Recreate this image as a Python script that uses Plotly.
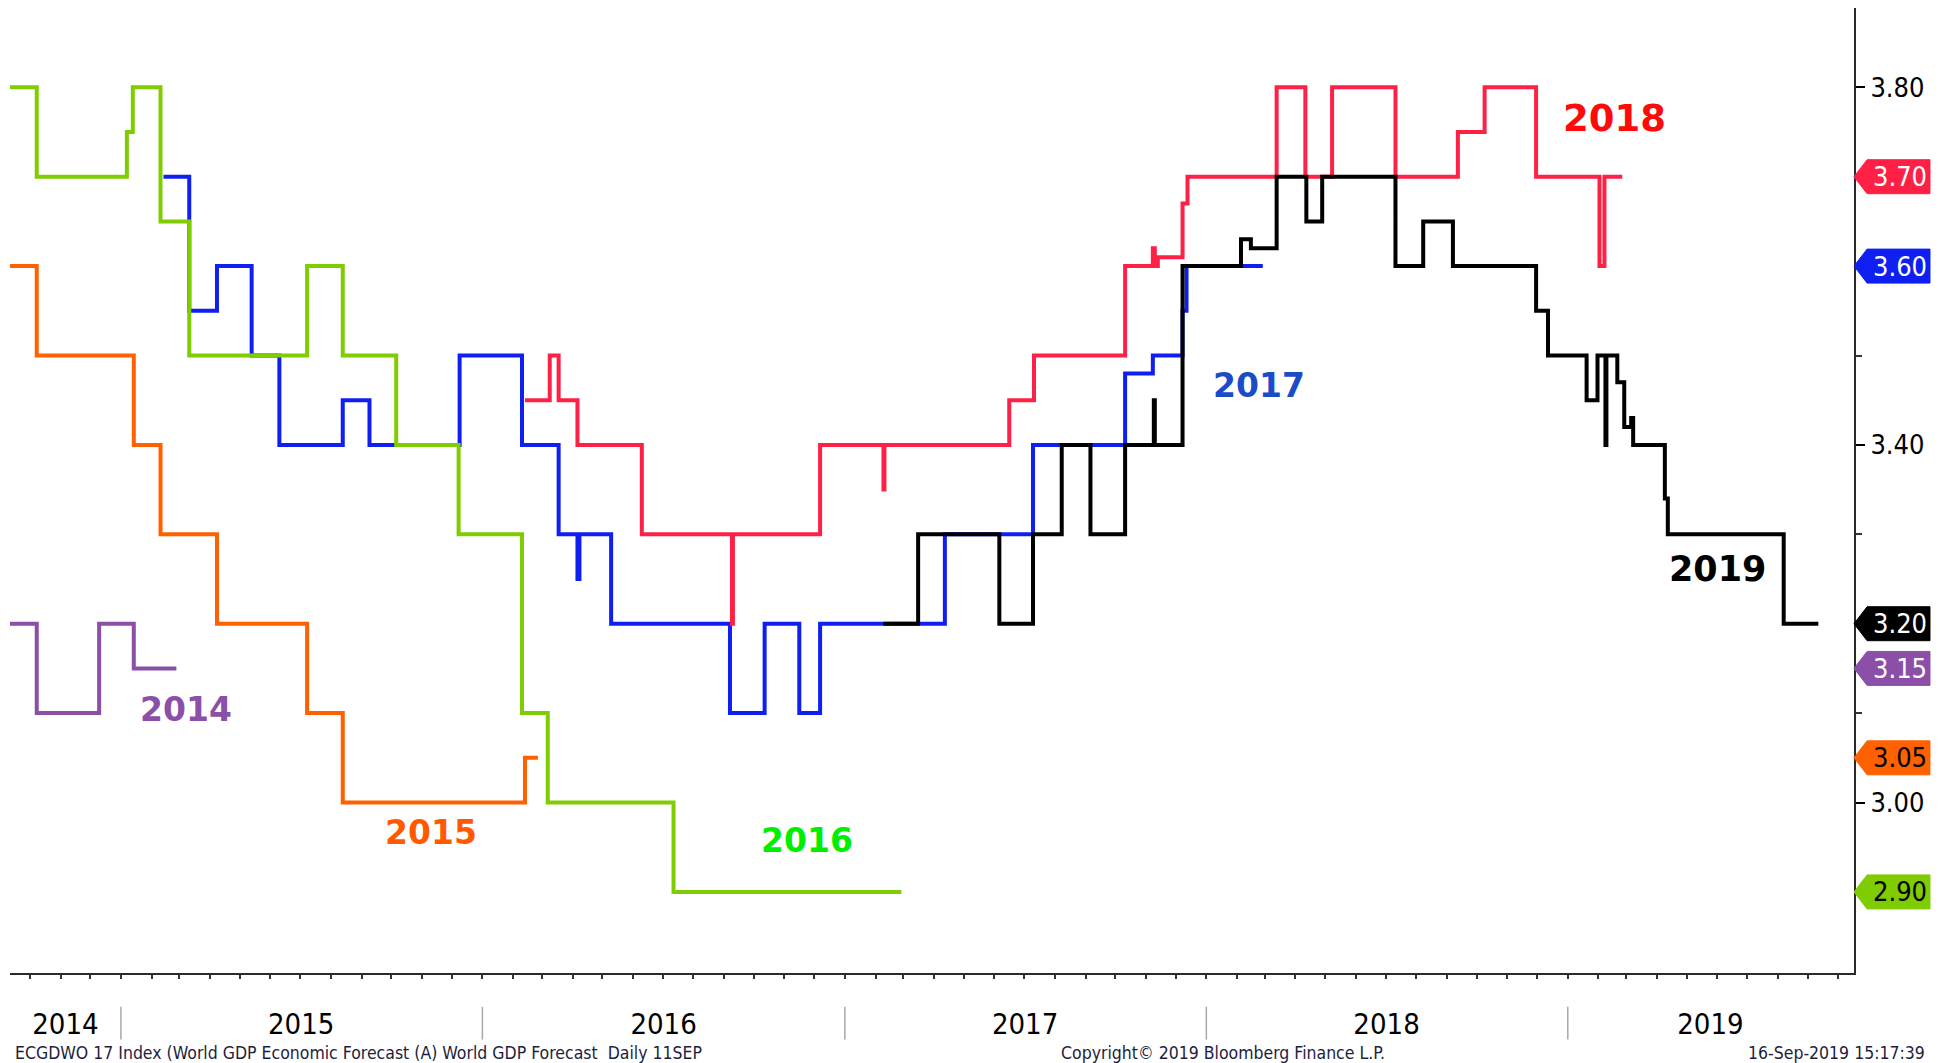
import pandas as pd
import plotly.graph_objects as go

# ---------------- data (step change points; value holds until next date) ----------------
dates_2014 = ["2014-09-11", "2014-10-08", "2014-12-10", "2015-01-14", "2015-02-26"]
vals_2014 = [3.20, 3.10, 3.20, 3.15, 3.15]

dates_2015 = ["2014-09-11", "2014-10-08", "2015-01-14", "2015-02-10", "2015-04-08",
              "2015-07-08", "2015-08-13", "2016-02-13", "2016-02-26"]
vals_2015 = [3.60, 3.50, 3.40, 3.30, 3.20, 3.10, 3.00, 3.05, 3.05]

dates_2016 = ["2014-09-11", "2014-10-08", "2015-01-07", "2015-01-13", "2015-02-10",
              "2015-03-11", "2015-07-08", "2015-08-13", "2015-10-06", "2015-12-08",
              "2016-02-10", "2016-03-07", "2016-07-12", "2017-02-27"]
vals_2016 = [3.80, 3.70, 3.75, 3.80, 3.65, 3.50, 3.60, 3.50, 3.40, 3.30,
             3.10, 3.00, 2.90, 2.90]

dates_2017 = ["2015-02-13", "2015-03-11", "2015-04-08", "2015-05-13", "2015-06-10",
              "2015-08-13", "2015-09-09", "2015-12-09", "2016-02-10", "2016-03-18",
              "2016-04-06", "2016-04-08", "2016-05-10", "2016-09-07", "2016-10-12",
              "2016-11-16", "2016-12-07", "2017-04-12", "2017-07-10", "2017-10-11",
              "2017-11-08", "2017-12-08", "2017-12-12", "2018-02-27"]
vals_2017 = [3.70, 3.55, 3.60, 3.50, 3.40, 3.45, 3.40, 3.50, 3.40, 3.30,
             3.25, 3.30, 3.20, 3.10, 3.20, 3.10, 3.20, 3.30, 3.40, 3.48,
             3.50, 3.55, 3.60, 3.60]

dates_2018 = ["2016-02-13", "2016-03-09", "2016-03-18", "2016-04-06", "2016-06-10",
              "2016-09-09", "2016-09-10", "2016-12-07", "2017-02-09", "2017-02-10",
              "2017-06-16", "2017-07-11", "2017-10-11", "2017-11-08", "2017-11-10",
              "2017-11-13", "2017-12-08", "2017-12-13", "2018-03-13", "2018-04-11",
              "2018-05-08", "2018-07-11", "2018-09-12", "2018-10-09", "2018-11-30",
              "2019-02-02", "2019-02-07", "2019-02-25"]
vals_2018 = [3.45, 3.50, 3.45, 3.40, 3.30,
             3.20, 3.30, 3.40, 3.35, 3.40,
             3.45, 3.50, 3.60, 3.62, 3.60,
             3.61, 3.67, 3.70, 3.80, 3.70,
             3.80, 3.70, 3.75, 3.80, 3.70,
             3.60, 3.70, 3.70]

dates_2019 = ["2017-02-09", "2017-03-16", "2017-06-06", "2017-07-10", "2017-08-08",
              "2017-09-06", "2017-10-11", "2017-11-09", "2017-11-10", "2017-12-08",
              "2018-02-05", "2018-02-15", "2018-03-13", "2018-04-12", "2018-04-28",
              "2018-07-11", "2018-08-08", "2018-09-07", "2018-11-30", "2018-12-12",
              "2019-01-20", "2019-01-31", "2019-02-08", "2019-02-09", "2019-02-20",
              "2019-02-27", "2019-03-06", "2019-03-08", "2019-04-09", "2019-04-12",
              "2019-08-07", "2019-09-11"]
vals_2019 = [3.20, 3.30, 3.20, 3.30, 3.40,
             3.30, 3.40, 3.45, 3.40, 3.60,
             3.63, 3.62, 3.70, 3.65, 3.70,
             3.60, 3.65, 3.60, 3.55, 3.50,
             3.45, 3.50, 3.40, 3.50, 3.47,
             3.42, 3.43, 3.40, 3.34, 3.30,
             3.20, 3.20]

series_names = ["2014", "2015", "2016", "2017", "2018", "2019"]
line_colors = ["#8B4FA8", "#FF6000", "#7FCC00", "#0F1FF2", "#FF2045", "#000000"]
label_colors = ["#8B4FA8", "#FF5A00", "#00EE00", "#1A4CC8", "#FF0A0A", "#000000"]
tag_text_colors = ["white", "black", "black", "white", "white", "white"]
label_dates = ["2015-03-08", "2015-11-10", "2016-11-24", "2018-02-23", "2019-02-17", "2019-06-01"]
label_vals = [3.104, 2.966, 2.958, 3.467, 3.765, 3.261]
label_sizes = [33, 33, 33, 33, 37, 35]

all_dates = [dates_2014, dates_2015, dates_2016, dates_2017, dates_2018, dates_2019]
all_vals = [vals_2014, vals_2015, vals_2016, vals_2017, vals_2018, vals_2019]
draw_order = [3, 4, 0, 1, 2, 5]

year_labels = ["2014", "2015", "2016", "2017", "2018", "2019"]
x_range = ["2014-09-11", "2019-10-17"]
y_range = [2.8093, 3.8887]

footer_left = "ECGDWO 17 Index (World GDP Economic Forecast (A) World GDP Forecast\u00a0 Daily 11SEP"
footer_mid = "Copyright\u00a9 2019 Bloomberg Finance L.P."
footer_right = "16-Sep-2019 15:17:39"

AX_FONT = "DejaVu Sans Condensed, Liberation Sans, Arial, sans-serif"

fig = go.Figure()
for i in draw_order:
    fig.add_trace(go.Scatter(
        x=all_dates[i], y=all_vals[i], mode="lines", line_shape="hv",
        line=dict(color=line_colors[i], width=4), name=series_names[i],
        hoverinfo="x+y"))

# series name labels
for i in range(len(series_names)):
    fig.add_annotation(x=label_dates[i], y=label_vals[i], xref="x", yref="y",
                       text="<b>%s</b>" % series_names[i], showarrow=False,
                       font=dict(family="DejaVu Sans, Verdana, sans-serif",
                                 size=label_sizes[i], color=label_colors[i]),
                       xanchor="center", yanchor="middle")

# last-value tags on the right axis
half = 0.019
tip = 1.0
box_l = 1.0071
box_r = 1.0412
for i in range(len(series_names)):
    v = all_vals[i][-1]
    path = (f"M {tip},{v} L {box_l},{v + half} L {box_r},{v + half} "
            f"L {box_r},{v - half} L {box_l},{v - half} Z")
    fig.add_shape(type="path", path=path, xref="paper", yref="y",
                  fillcolor=line_colors[i], line=dict(color=line_colors[i], width=1),
                  layer="above")
    fig.add_annotation(x=(box_l + box_r) / 2 + 0.001, y=v, xref="paper", yref="y",
                       text="%.2f" % v, showarrow=False,
                       font=dict(family=AX_FONT, size=27, color=tag_text_colors[i]),
                       xanchor="center", yanchor="middle")

# year label positions (centre of visible part of each year)
start = pd.Timestamp(x_range[0])
end = pd.Timestamp(x_range[1])
year_mid = []
for y in year_labels:
    a = max(pd.Timestamp(f"{y}-01-01"), start)
    b = min(pd.Timestamp(f"{int(y) + 1}-01-01"), end)
    year_mid.append((a + (b - a) / 2).strftime("%Y-%m-%d"))

# separators between years (below axis)
for y in year_labels[1:]:
    fig.add_shape(type="line", xref="x", yref="paper",
                  x0=f"{y}-01-01", x1=f"{y}-01-01", y0=-0.035, y1=-0.069,
                  line=dict(color="#A8A8A8", width=1.5))

foot_font = dict(family=AX_FONT, size=17.5, color="#1E1E3C")
fig.add_annotation(x=0.0015, y=-0.083, xref="paper", yref="paper", text=footer_left,
                   showarrow=False, xanchor="left", yanchor="middle", font=foot_font)
fig.add_annotation(x=0.658, y=-0.083, xref="paper", yref="paper", text=footer_mid,
                   showarrow=False, xanchor="center", yanchor="middle", font=foot_font)
fig.add_annotation(x=1.0396, y=-0.083, xref="paper", yref="paper", text=footer_right,
                   showarrow=False, xanchor="right", yanchor="middle", font=foot_font)

fig.update_layout(
    width=1948, height=1063,
    margin=dict(l=10, r=94, t=8, b=90),
    paper_bgcolor="white", plot_bgcolor="white",
    showlegend=False,
    font=dict(family=AX_FONT, color="black"),
    xaxis=dict(
        type="date", range=x_range, showgrid=False, zeroline=False,
        showline=True, linecolor="#2A2A2A", linewidth=2,
        tickmode="array", tickvals=year_mid, ticktext=year_labels, ticks="",
        ticklabelstandoff=24,
        tickfont=dict(family=AX_FONT, size=29, color="black"),
        minor=dict(ticks="outside", dtick="M1", tick0="2014-01-01", ticklen=4,
                   tickwidth=1.5, tickcolor="#333333", showgrid=False),
    ),
    yaxis=dict(
        side="right", range=y_range, showgrid=False, zeroline=False,
        showline=True, linecolor="#2A2A2A", linewidth=2,
        tickmode="linear", tick0=3.0, dtick=0.4, tickformat=".2f",
        ticks="outside", ticklen=9, tickwidth=2, tickcolor="black",
        tickfont=dict(family=AX_FONT, size=27, color="black"),
        minor=dict(ticks="outside", dtick=0.1, tick0=3.0, ticklen=6,
                   tickwidth=1.5, tickcolor="#333333", showgrid=False),
    ),
)

fig.write_html("out.html", config={"displayModeBar": False},
               post_script="document.body.style.margin='0';document.body.style.overflow='hidden';")
